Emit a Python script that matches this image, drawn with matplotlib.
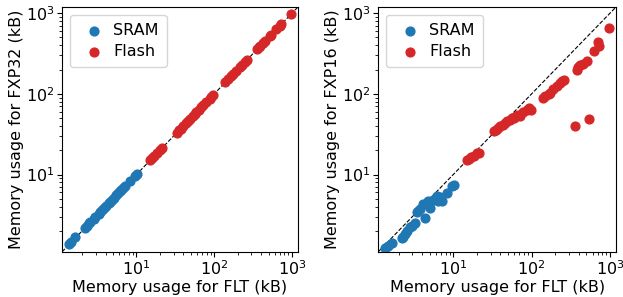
import numpy as np
import matplotlib
matplotlib.use('Agg')
import matplotlib.pyplot as plt

# FLT memory usage (kB), shared x for both panels
sram_flt = [1.34, 1.45, 1.64, 2.2, 2.3, 2.45, 2.55, 2.8, 2.95, 3.25, 3.4, 3.6, 3.8, 4.1,
            4.4, 4.6, 4.8, 5.1, 5.5, 5.8, 6.2, 6.4, 6.8, 7.2, 8.3, 9.6, 10.1]
sram_fxp32 = [1.36, 1.47, 1.66, 2.2, 2.32, 2.48, 2.57, 2.82, 2.98, 3.27, 3.43, 3.62, 3.83, 4.12,
              4.43, 4.63, 4.83, 5.13, 5.53, 5.84, 6.25, 6.44, 6.85, 7.25, 8.35, 9.65, 10.1]
sram_fxp16 = [1.24, 1.3, 1.41, 1.65, 1.7, 1.85, 2.0, 2.24, 2.3, 2.5, 3.4, 3.5, 3.7, 4.3,
              2.9, 4.5, 4.7, 3.9, 4.9, 5.0, 5.4, 4.7, 5.2, 4.7, 5.9, 7.2, 7.5]

flash_flt = [15, 16, 17, 18.3, 20, 21.5, 33, 35, 37, 40, 43, 46, 49, 53, 56, 59, 63, 68,
             72, 78, 87, 92, 97, 138, 150, 165, 174, 190, 213, 230, 247, 262, 355, 375,
             390, 420, 450, 515, 540, 630, 695, 725, 980]
flash_fxp32 = [15.1, 16.1, 17.1, 18.4, 20.1, 21.6, 33.2, 35.2, 37.2, 40.2, 43.2, 46.2, 49.3,
               53.3, 56.3, 59.3, 63.3, 68.4, 72.4, 78.4, 87.5, 92.5, 97.5, 139, 151, 166,
               175, 191, 214, 231, 248, 263, 357, 377, 392, 422, 452, 518, 543, 633, 698,
               728, 985]
flash_fxp16 = [15.3, 15.8, 16.5, 16.9, 18.6, 18.5, 34.6, 36, 38, 40, 41, 44, 46, 48, 50, 50,
               53, 55, 53, 60, 64, 66, 64, 89, 95, 100, 104, 115, 126, 135, 145, 150, 40,
               200, 213, 225, 235, 256, 49, 340, 435, 390, 660]

lims = (1.1, 1200)

fig = plt.figure(figsize=(6.23, 2.97), dpi=100)
ax1 = fig.add_axes([0.0995, 0.152, 0.379, 0.825])
ax2 = fig.add_axes([0.607, 0.152, 0.382, 0.825])

panels = [(ax1, sram_fxp32, flash_fxp32, 'Memory usage for FXP32 (kB)'),
          (ax2, sram_fxp16, flash_fxp16, 'Memory usage for FXP16 (kB)')]

for ax, sram_y, flash_y, ylabel in panels:
    ax.plot(lims, lims, 'k--', lw=0.8, zorder=1)
    ax.scatter(sram_flt, sram_y, s=40, color='#1f77b4', label='SRAM', zorder=2)
    ax.scatter(flash_flt, flash_y, s=40, color='#d62728', label='Flash', zorder=2)
    ax.set_xscale('log')
    ax.set_yscale('log')
    ax.set_xlim(lims)
    ax.set_ylim(lims)
    ax.set_xlabel('Memory usage for FLT (kB)', fontsize=11.5, labelpad=1)
    ax.set_ylabel(ylabel, fontsize=11.5, labelpad=1)
    ax.tick_params(axis='both', which='major', labelsize=11.5, pad=2)
    ax.legend(loc='upper left', fontsize=11.5, handletextpad=0.2, borderpad=0.5,
              labelspacing=0.4, markerscale=1.0)

fig.savefig('out.png', dpi=100)
